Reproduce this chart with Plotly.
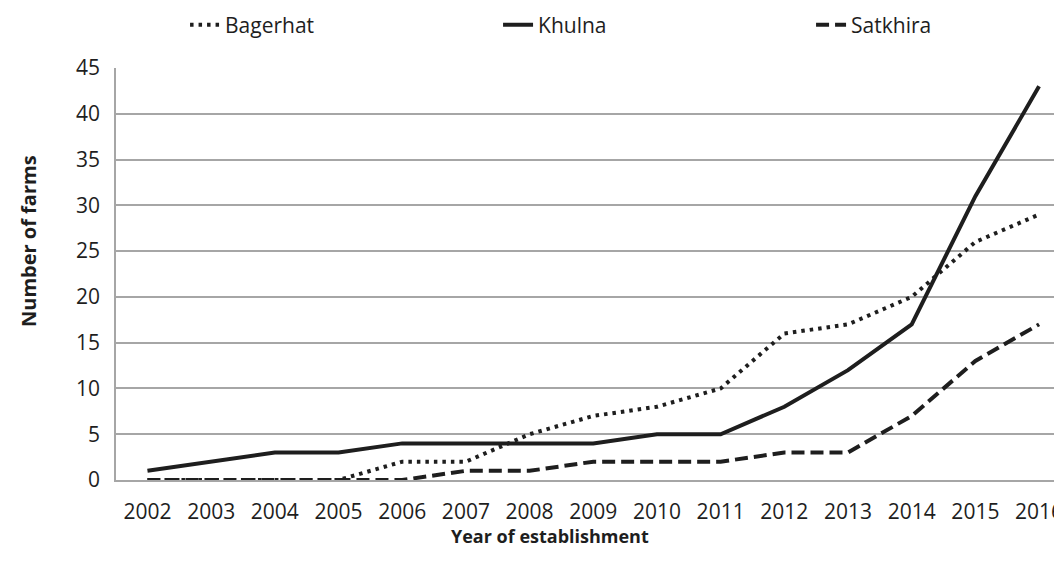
import plotly.graph_objects as go

years = ["2002", "2003", "2004", "2005", "2006", "2007", "2008", "2009",
         "2010", "2011", "2012", "2013", "2014", "2015", "2016"]
bagerhat = [0, 0, 0, 0, 2, 2, 5, 7, 8, 10, 16, 17, 20, 26, 29]
khulna = [1, 2, 3, 3, 4, 4, 4, 4, 5, 5, 8, 12, 17, 31, 43]
satkhira = [0, 0, 0, 0, 0, 1, 1, 2, 2, 2, 3, 3, 7, 13, 17]

FONT = "Open Sans"
INK = "#1e1e1e"
GRID = "#a6a6a6"

fig = go.Figure()
fig.add_trace(go.Scatter(x=years, y=bagerhat, name="Bagerhat", mode="lines",
                         line=dict(color=INK, width=4, dash="3.5px,5px")))
fig.add_trace(go.Scatter(x=years, y=khulna, name="Khulna", mode="lines",
                         line=dict(color=INK, width=4)))
fig.add_trace(go.Scatter(x=years, y=satkhira, name="Satkhira", mode="lines",
                         line=dict(color=INK, width=4, dash="13px,6px")))

fig.update_layout(
    width=1054, height=563,
    margin=dict(l=108, r=0, t=60, b=91, autoexpand=False),
    paper_bgcolor="white", plot_bgcolor="white",
    font=dict(family=FONT, size=21, color="#1e1e1e"),
    showlegend=True,
    legend=dict(orientation="h", xref="paper", yref="paper",
                x=0.073, xanchor="left", y=1.104, yanchor="middle",
                entrywidth=268, entrywidthmode="pixels",
                font=dict(family=FONT, size=21), bgcolor="rgba(0,0,0,0)"),
    annotations=[
        dict(text="<b>Year of establishment</b>", xref="paper", yref="paper",
             x=(550 - 116) / 946, y=-(536 - 480) / 412, xanchor="center", yanchor="middle",
             showarrow=False, font=dict(size=18)),
        dict(text="<b>Number of farms</b>", xref="paper", yref="paper",
             x=-(116 - 28) / 946, y=(480 - 241) / 412, xanchor="center", yanchor="middle",
             textangle=-90, showarrow=False, font=dict(size=20)),
    ],
)

fig.update_xaxes(type="category", range=[-0.494, 14.36], showgrid=False, automargin=False,
                 showline=True, linecolor=GRID, linewidth=1.5, ticks="",
                 ticklabelstandoff=12)
fig.update_yaxes(range=[0, 45], dtick=5, showgrid=True, gridcolor=GRID, gridwidth=1.5,
                 showline=True, linecolor=GRID, linewidth=1.5, ticks="", automargin=False,
                 ticklabelstandoff=10, zeroline=False)

fig.write_html("out.html")
